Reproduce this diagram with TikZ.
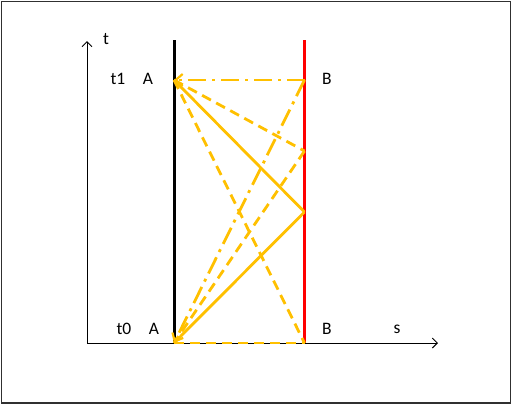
\documentclass[tikz,border=0pt]{standalone}
\usepackage{fontspec}
\setmainfont{Carlito}
\usetikzlibrary{arrows.meta}
\definecolor{gold}{HTML}{FFC000}
\definecolor{framegray}{HTML}{303030}
\tikzset{
  lbl/.style={font=\fontsize{17.5}{20}\selectfont, inner sep=0pt},
  axis/.style={draw=black, line width=1pt},
  world/.style={line width=3pt},
  sig/.style={draw=gold, line width=2.8pt, line cap=butt},
  sigdash/.style={sig, dash pattern=on 10pt off 6pt},
  sigdashdot/.style={sig, dash pattern=on 18pt off 6pt on 3pt off 6pt},
  tip/.style={-{Straight Barb[length=7pt,width=12pt,line width=2.2pt]}}
}
\begin{document}
\begin{tikzpicture}[x=1pt,y=-1pt]
\useasboundingbox (0,0) rectangle (512,405);
\draw[framegray, line width=1.5pt] (1.5,1.5) rectangle (510.5,403);
% axes
\coordinate (O) at (87,343);
\coordinate (Ttop) at (87,41);
\coordinate (Send) at (438,343);
\draw[axis, -{Straight Barb[length=5pt,width=10pt]}] (O) -- (Ttop);
\draw[axis, -{Straight Barb[length=5pt,width=10pt]}] (O) -- (Send);
% world lines
\coordinate (Alo) at (174,343);
\coordinate (Ahi) at (174,80);
\coordinate (Aend) at (174,40);
\coordinate (Blo) at (304.5,343);
\coordinate (Bhi) at (304.5,80);
\coordinate (Bmid) at (304.5,151);
\coordinate (Blow) at (304.5,212);
\coordinate (Bend) at (304.5,40);
\draw[world, black] (Alo) -- (Aend);
\draw[world, red] (Blo) -- (Bend);
% signals
\draw[sigdashdot, tip] (Bhi) -- (Ahi);
\draw[sigdashdot, tip] (Bhi) -- (Alo);
\draw[sigdash] (Ahi) -- (Bmid);
\draw[sigdash] (Bmid) -- (Alo);
\draw[sigdash] (Ahi) -- (Blo);
\draw[sigdash] (Alo) -- (Blo);
\draw[sig] (Ahi) -- (Blow);
\draw[sig] (Blow) -- (Alo);
% labels
\node[lbl] (lt) at (106,39) {t};
\node[lbl] (lt1) at (118,79) {t1};
\node[lbl] (lA1) at (148,79) {A};
\node[lbl] (lB1) at (327,79) {B};
\node[lbl] (lt0) at (124,329) {t0};
\node[lbl] (lA0) at (154,329) {A};
\node[lbl] (lB0) at (327,329) {B};
\node[lbl] (ls) at (397,329) {s};
\end{tikzpicture}
\end{document}
